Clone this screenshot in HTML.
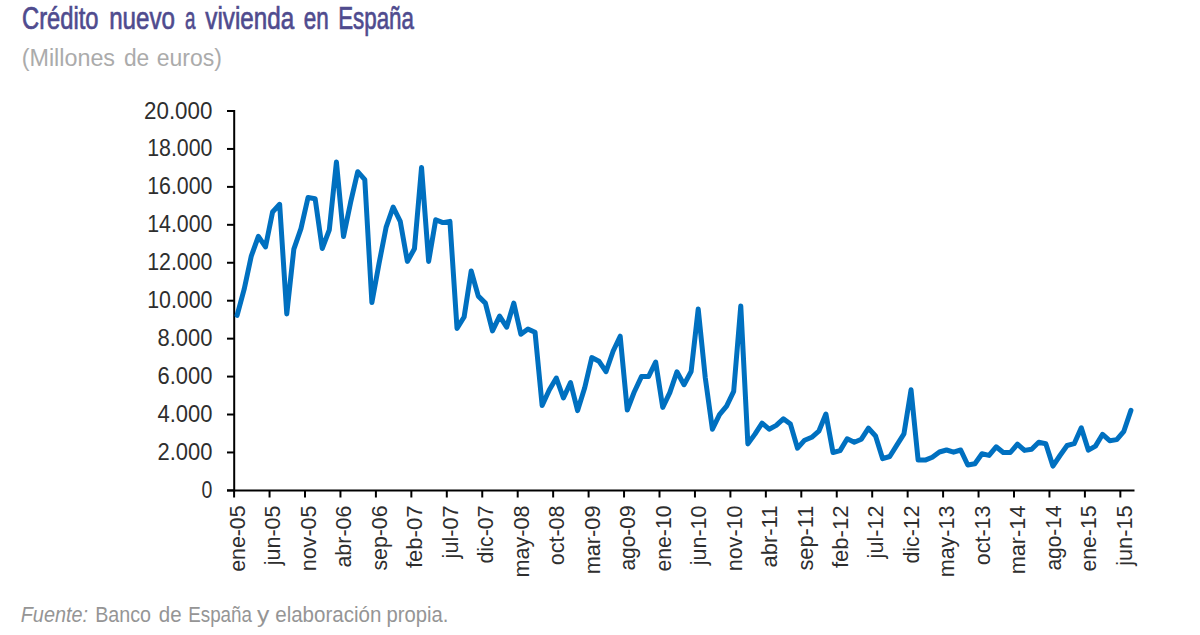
<!DOCTYPE html>
<html><head><meta charset="utf-8"><style>
html,body{margin:0;padding:0;background:#fff;width:1200px;height:635px;overflow:hidden}
svg{display:block;font-family:"Liberation Sans",sans-serif}
.ax{stroke:#000;stroke-width:2;fill:none}
.ser{stroke:#0070c0;stroke-width:5;fill:none;stroke-linejoin:round;stroke-linecap:round}
.yl{font-size:23px;fill:#2e2e2e}
.xl{font-size:21.8px;fill:#2e2e2e;text-anchor:end}
.title{font-size:31px;fill:#4f4b8e;stroke:#4f4b8e;stroke-width:0.7px}
.sub{font-size:23px;fill:#ababab}
.foot{font-size:22.5px;fill:#959595}
</style></head><body>
<svg width="1200" height="635" viewBox="0 0 1200 635">
<text x="22.00" y="28.9" class="title" textLength="76.50" lengthAdjust="spacingAndGlyphs">Crédito</text>
<text x="109.20" y="28.9" class="title" textLength="65.80" lengthAdjust="spacingAndGlyphs">nuevo</text>
<text x="185.00" y="28.9" class="title" textLength="10.42" lengthAdjust="spacingAndGlyphs">a</text>
<text x="205.30" y="28.9" class="title" textLength="88.88" lengthAdjust="spacingAndGlyphs">vivienda</text>
<text x="303.76" y="28.9" class="title" textLength="25.02" lengthAdjust="spacingAndGlyphs">en</text>
<text x="338.18" y="28.9" class="title" textLength="75.78" lengthAdjust="spacingAndGlyphs">España</text>
<text x="21.70" y="65.9" class="sub" textLength="93.34" lengthAdjust="spacingAndGlyphs">(Millones</text>
<text x="123.98" y="65.9" class="sub" textLength="25.32" lengthAdjust="spacingAndGlyphs">de</text>
<text x="156.70" y="65.9" class="sub" textLength="65.10" lengthAdjust="spacingAndGlyphs">euros)</text>
<text x="20.74" y="622" class="foot" textLength="67.30" lengthAdjust="spacingAndGlyphs" font-style="italic">Fuente:</text>
<text x="95.16" y="622" class="foot" textLength="55.84" lengthAdjust="spacingAndGlyphs">Banco</text>
<text x="158.74" y="622" class="foot" textLength="22.80" lengthAdjust="spacingAndGlyphs">de</text>
<text x="188.18" y="622" class="foot" textLength="63.80" lengthAdjust="spacingAndGlyphs">España</text>
<text x="257.00" y="622" class="foot" textLength="12.32" lengthAdjust="spacingAndGlyphs">y</text>
<text x="275.22" y="622" class="foot" textLength="106.10" lengthAdjust="spacingAndGlyphs">elaboración</text>
<text x="386.42" y="622" class="foot" textLength="61.90" lengthAdjust="spacingAndGlyphs">propia.</text>
<text x="201.58" y="497.9" class="yl" textLength="10.84" lengthAdjust="spacingAndGlyphs">0</text>
<text x="157.50" y="459.96" class="yl" textLength="54.92" lengthAdjust="spacingAndGlyphs">2.000</text>
<text x="157.50" y="422.02" class="yl" textLength="54.92" lengthAdjust="spacingAndGlyphs">4.000</text>
<text x="157.50" y="384.08" class="yl" textLength="54.92" lengthAdjust="spacingAndGlyphs">6.000</text>
<text x="157.50" y="346.14" class="yl" textLength="54.92" lengthAdjust="spacingAndGlyphs">8.000</text>
<text x="147.16" y="308.2" class="yl" textLength="65.26" lengthAdjust="spacingAndGlyphs">10.000</text>
<text x="147.16" y="270.26" class="yl" textLength="65.26" lengthAdjust="spacingAndGlyphs">12.000</text>
<text x="147.16" y="232.32" class="yl" textLength="65.26" lengthAdjust="spacingAndGlyphs">14.000</text>
<text x="147.16" y="194.38" class="yl" textLength="65.26" lengthAdjust="spacingAndGlyphs">16.000</text>
<text x="147.16" y="156.44" class="yl" textLength="65.26" lengthAdjust="spacingAndGlyphs">18.000</text>
<text x="144.04" y="118.5" class="yl" textLength="68.38" lengthAdjust="spacingAndGlyphs">20.000</text>
<line x1="227" y1="490.40" x2="234" y2="490.40" class="ax"/>
<line x1="227" y1="452.46" x2="234" y2="452.46" class="ax"/>
<line x1="227" y1="414.52" x2="234" y2="414.52" class="ax"/>
<line x1="227" y1="376.58" x2="234" y2="376.58" class="ax"/>
<line x1="227" y1="338.64" x2="234" y2="338.64" class="ax"/>
<line x1="227" y1="300.70" x2="234" y2="300.70" class="ax"/>
<line x1="227" y1="262.76" x2="234" y2="262.76" class="ax"/>
<line x1="227" y1="224.82" x2="234" y2="224.82" class="ax"/>
<line x1="227" y1="186.88" x2="234" y2="186.88" class="ax"/>
<line x1="227" y1="148.94" x2="234" y2="148.94" class="ax"/>
<line x1="227" y1="111.00" x2="234" y2="111.00" class="ax"/>
<line x1="234.10" y1="490.4" x2="234.10" y2="497.5" class="ax"/>
<line x1="269.55" y1="490.4" x2="269.55" y2="497.5" class="ax"/>
<line x1="305.00" y1="490.4" x2="305.00" y2="497.5" class="ax"/>
<line x1="340.45" y1="490.4" x2="340.45" y2="497.5" class="ax"/>
<line x1="375.90" y1="490.4" x2="375.90" y2="497.5" class="ax"/>
<line x1="411.35" y1="490.4" x2="411.35" y2="497.5" class="ax"/>
<line x1="446.80" y1="490.4" x2="446.80" y2="497.5" class="ax"/>
<line x1="482.25" y1="490.4" x2="482.25" y2="497.5" class="ax"/>
<line x1="517.70" y1="490.4" x2="517.70" y2="497.5" class="ax"/>
<line x1="553.15" y1="490.4" x2="553.15" y2="497.5" class="ax"/>
<line x1="588.60" y1="490.4" x2="588.60" y2="497.5" class="ax"/>
<line x1="624.05" y1="490.4" x2="624.05" y2="497.5" class="ax"/>
<line x1="659.50" y1="490.4" x2="659.50" y2="497.5" class="ax"/>
<line x1="694.95" y1="490.4" x2="694.95" y2="497.5" class="ax"/>
<line x1="730.40" y1="490.4" x2="730.40" y2="497.5" class="ax"/>
<line x1="765.85" y1="490.4" x2="765.85" y2="497.5" class="ax"/>
<line x1="801.30" y1="490.4" x2="801.30" y2="497.5" class="ax"/>
<line x1="836.75" y1="490.4" x2="836.75" y2="497.5" class="ax"/>
<line x1="872.20" y1="490.4" x2="872.20" y2="497.5" class="ax"/>
<line x1="907.65" y1="490.4" x2="907.65" y2="497.5" class="ax"/>
<line x1="943.10" y1="490.4" x2="943.10" y2="497.5" class="ax"/>
<line x1="978.55" y1="490.4" x2="978.55" y2="497.5" class="ax"/>
<line x1="1014.00" y1="490.4" x2="1014.00" y2="497.5" class="ax"/>
<line x1="1049.45" y1="490.4" x2="1049.45" y2="497.5" class="ax"/>
<line x1="1084.90" y1="490.4" x2="1084.90" y2="497.5" class="ax"/>
<line x1="1120.35" y1="490.4" x2="1120.35" y2="497.5" class="ax"/>
<text transform="translate(245.00,505.5) rotate(-90)" class="xl" textLength="66.28" lengthAdjust="spacingAndGlyphs">ene-05</text>
<text transform="translate(280.47,505.5) rotate(-90)" class="xl" textLength="59.80" lengthAdjust="spacingAndGlyphs">jun-05</text>
<text transform="translate(315.94,505.5) rotate(-90)" class="xl" textLength="65.83" lengthAdjust="spacingAndGlyphs">nov-05</text>
<text transform="translate(351.41,505.5) rotate(-90)" class="xl" textLength="62.12" lengthAdjust="spacingAndGlyphs">abr-06</text>
<text transform="translate(386.88,505.5) rotate(-90)" class="xl" textLength="65.12" lengthAdjust="spacingAndGlyphs">sep-06</text>
<text transform="translate(422.35,505.5) rotate(-90)" class="xl" textLength="62.58" lengthAdjust="spacingAndGlyphs">feb-07</text>
<text transform="translate(457.82,505.5) rotate(-90)" class="xl" textLength="52.88" lengthAdjust="spacingAndGlyphs">jul-07</text>
<text transform="translate(493.29,505.5) rotate(-90)" class="xl" textLength="57.98" lengthAdjust="spacingAndGlyphs">dic-07</text>
<text transform="translate(528.76,505.5) rotate(-90)" class="xl" textLength="72.05" lengthAdjust="spacingAndGlyphs">may-08</text>
<text transform="translate(564.23,505.5) rotate(-90)" class="xl" textLength="59.82" lengthAdjust="spacingAndGlyphs">oct-08</text>
<text transform="translate(599.70,505.5) rotate(-90)" class="xl" textLength="68.83" lengthAdjust="spacingAndGlyphs">mar-09</text>
<text transform="translate(635.17,505.5) rotate(-90)" class="xl" textLength="65.12" lengthAdjust="spacingAndGlyphs">ago-09</text>
<text transform="translate(670.64,505.5) rotate(-90)" class="xl" textLength="66.05" lengthAdjust="spacingAndGlyphs">ene-10</text>
<text transform="translate(706.11,505.5) rotate(-90)" class="xl" textLength="59.80" lengthAdjust="spacingAndGlyphs">jun-10</text>
<text transform="translate(741.58,505.5) rotate(-90)" class="xl" textLength="65.83" lengthAdjust="spacingAndGlyphs">nov-10</text>
<text transform="translate(777.05,505.5) rotate(-90)" class="xl" textLength="62.12" lengthAdjust="spacingAndGlyphs">abr-11</text>
<text transform="translate(812.52,505.5) rotate(-90)" class="xl" textLength="65.12" lengthAdjust="spacingAndGlyphs">sep-11</text>
<text transform="translate(847.99,505.5) rotate(-90)" class="xl" textLength="62.58" lengthAdjust="spacingAndGlyphs">feb-12</text>
<text transform="translate(883.46,505.5) rotate(-90)" class="xl" textLength="52.88" lengthAdjust="spacingAndGlyphs">jul-12</text>
<text transform="translate(918.93,505.5) rotate(-90)" class="xl" textLength="57.97" lengthAdjust="spacingAndGlyphs">dic-12</text>
<text transform="translate(954.40,505.5) rotate(-90)" class="xl" textLength="71.82" lengthAdjust="spacingAndGlyphs">may-13</text>
<text transform="translate(989.87,505.5) rotate(-90)" class="xl" textLength="59.82" lengthAdjust="spacingAndGlyphs">oct-13</text>
<text transform="translate(1025.34,505.5) rotate(-90)" class="xl" textLength="68.83" lengthAdjust="spacingAndGlyphs">mar-14</text>
<text transform="translate(1060.81,505.5) rotate(-90)" class="xl" textLength="65.12" lengthAdjust="spacingAndGlyphs">ago-14</text>
<text transform="translate(1096.28,505.5) rotate(-90)" class="xl" textLength="66.05" lengthAdjust="spacingAndGlyphs">ene-15</text>
<text transform="translate(1131.75,505.5) rotate(-90)" class="xl" textLength="60.26" lengthAdjust="spacingAndGlyphs">jun-15</text>
<line x1="234.2" y1="110" x2="234.2" y2="491.4" class="ax"/>
<line x1="227" y1="490.4" x2="1134.5" y2="490.4" class="ax"/>
<polyline points="237.10,315.40 244.19,289.20 251.29,256.10 258.38,236.30 265.48,246.90 272.57,212.00 279.66,204.30 286.76,313.90 293.85,249.10 300.95,228.60 308.04,197.50 315.13,198.70 322.23,248.50 329.32,229.80 336.42,162.00 343.51,236.50 350.60,202.40 357.70,171.70 364.79,179.70 371.89,302.60 378.98,263.80 386.07,227.40 393.17,207.00 400.26,221.40 407.36,261.40 414.45,248.80 421.54,167.50 428.64,261.40 435.73,219.70 442.83,222.60 449.92,221.40 457.01,328.40 464.11,317.00 471.20,271.00 478.30,296.10 485.39,303.10 492.48,330.90 499.58,316.10 506.67,327.20 513.77,303.10 520.86,334.30 527.95,329.10 535.05,332.20 542.14,405.50 549.24,390.00 556.33,378.00 563.42,398.00 570.52,382.60 577.61,410.60 584.71,387.80 591.80,357.60 598.89,361.20 605.99,371.70 613.08,351.20 620.18,336.20 627.27,410.00 634.36,391.70 641.46,376.60 648.55,376.60 655.65,362.00 662.74,407.40 669.83,392.60 676.93,371.80 684.02,384.70 691.12,371.50 698.21,309.10 705.30,378.00 712.40,429.20 719.49,414.60 726.59,406.10 733.68,391.40 740.77,306.00 747.87,443.90 754.96,434.10 762.06,423.10 769.15,429.20 776.24,425.40 783.34,418.80 790.43,424.10 797.53,448.20 804.62,440.20 811.71,437.30 818.81,431.20 825.90,414.00 833.00,452.50 840.09,450.60 847.18,438.80 854.28,442.20 861.37,439.20 868.47,428.20 875.56,436.00 882.65,458.70 889.75,456.50 896.84,445.20 903.94,433.90 911.03,389.80 918.12,460.10 925.22,460.10 932.31,457.20 939.41,452.00 946.50,450.00 953.59,452.20 960.69,450.00 967.78,465.00 974.88,463.75 981.97,453.75 989.06,455.40 996.16,446.80 1003.25,452.50 1010.35,452.50 1017.44,444.20 1024.53,450.40 1031.63,449.20 1038.72,442.30 1045.82,443.70 1052.91,466.10 1060.00,455.50 1067.10,445.50 1074.19,443.70 1081.29,427.80 1088.38,450.20 1095.47,446.10 1102.57,434.30 1109.66,440.70 1116.76,439.60 1123.85,431.30 1130.94,410.40" class="ser"/>
</svg>
</body></html>
